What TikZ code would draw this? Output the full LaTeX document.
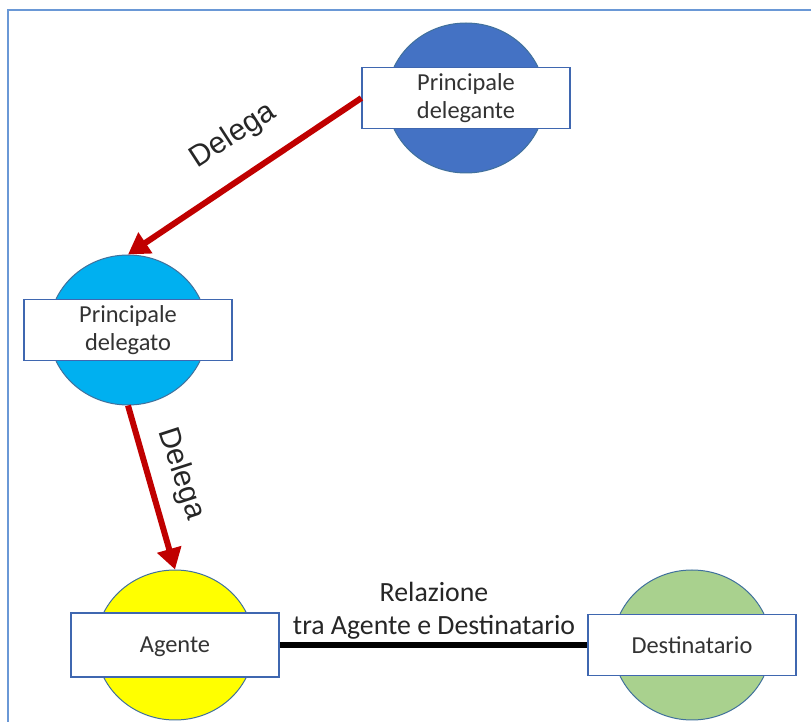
\documentclass[tikz,border=0pt]{standalone}
\usepackage{fontspec}
\setmainfont{Carlito}
\newfontfamily\arialfont{Liberation Sans}
\usetikzlibrary{shapes.geometric, arrows.meta}

\definecolor{bluDelegante}{HTML}{4472C4}
\definecolor{bluDelegato}{HTML}{00B0F0}
\definecolor{gialloAgente}{HTML}{FFFF00}
\definecolor{verdeDest}{HTML}{A9D18E}
\definecolor{bordoBolla}{HTML}{41719C}
\definecolor{bordoRiquadro}{HTML}{3F67B0}
\definecolor{rossoDelega}{HTML}{C00000}
\definecolor{cornice}{HTML}{6A98D6}

\tikzset{
	bolla/.style={ellipse, draw=bordoBolla, line width=0.5pt,
		minimum width=79pt, minimum height=75pt, inner sep=0pt},
	riquadro/.style={rectangle, draw=bordoRiquadro, line width=0.6pt, fill=white,
		minimum width=104pt, minimum height=30.5pt, inner sep=0pt, align=center,
		text=black!80, font=\fontsize{12.2}{14}\selectfont},
	freccia/.style={draw=rossoDelega, line width=3pt,
		-{Triangle[length=10.5pt, width=12pt]}},
	etichetta/.style={text=black!85, font=\arialfont\fontsize{15}{18}\selectfont},
}

\begin{document}
\begin{tikzpicture}[x=0.5pt, y=-0.5pt] % coordinate in pixel, y verso il basso
	\useasboundingbox (0, 0) rectangle (811, 722);
	% cornice
	\draw[cornice, line width=1pt] (8, 722) -- (8, 10.5) -- (811, 10.5);
	% bolle e riquadri
	\node[bolla, fill=bluDelegante] (cDelegante) at (466, 98) {};
	\node[riquadro] (bDelegante) at (cDelegante) {Principale\\delegante};
	\node[bolla, fill=bluDelegato] (cDelegato) at (128, 330) {};
	\node[riquadro] (bDelegato) at (cDelegato) {Principale\\delegato};
	\node[bolla, fill=gialloAgente] (cAgente) at (175, 645) {};
	\node[riquadro, minimum height=32pt, text depth=0pt] (bAgente) at (cAgente) {Agente};
	\node[bolla, fill=verdeDest] (cDest) at (692, 645) {};
	\node[riquadro] (bDest) at (cDest) {Destinatario};
	% deleghe
	\draw[freccia] (bDelegante.west) -- (cDelegato.north);
	\node[etichetta, rotate=33] (lDelega1) at (233, 136) {Delega};
	\draw[freccia] (cDelegato.south) -- (cAgente.north);
	\node[etichetta, rotate=-72] (lDelega2) at (181, 474) {Delega};
	% relazione
	\draw[black, line width=3pt] (bAgente.east) -- (bDest.west);
	\node[align=center, text=black!85, font=\fontsize{13.9}{16.5}\selectfont]
		(lRelazione) at (434, 611) {Relazione\\tra Agente e Destinatario};
\end{tikzpicture}
\end{document}
